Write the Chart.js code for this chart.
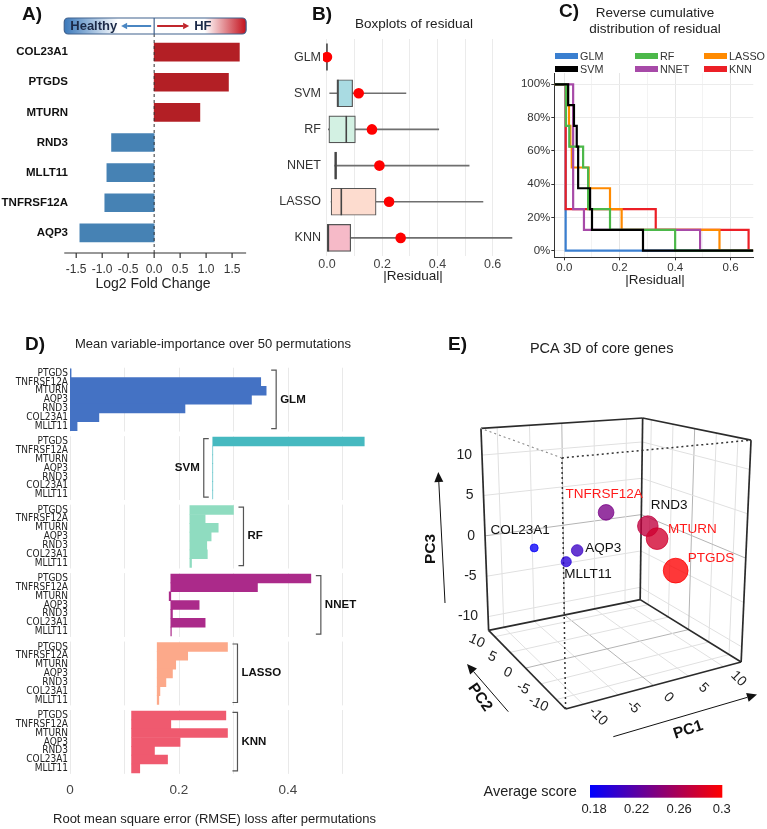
<!DOCTYPE html>
<html>
<head>
<meta charset="utf-8">
<title>Figure</title>
<script src="https://cdn.jsdelivr.net/npm/chart.js@4.4.1/dist/chart.umd.min.js"></script>
<style>
  html, body { margin:0; padding:0; background:#ffffff; }
  #fig { position:relative; width:767px; height:829px; overflow:hidden; background:#fff;
         font-family:"Liberation Sans", Arial, Helvetica, sans-serif; color:#222; }
  #fig canvas { position:absolute; }
  .t { position:absolute; white-space:nowrap; line-height:1; }
</style>
</head>
<body>
<div id="fig">
  <canvas id="cA" width="255" height="295" style="left:0;top:0"></canvas>
  <canvas id="cB" width="270" height="295" style="left:250px;top:0"></canvas>
  <canvas id="cC" width="262" height="295" style="left:505px;top:0"></canvas>
  <canvas id="cD" width="420" height="539" style="left:0;top:290px"></canvas>
  <canvas id="cE" width="347" height="539" style="left:420px;top:290px"></canvas>
</div>
<script>
// ===================== DATA =====================
// A) differential expression
const genesA = ['COL23A1','PTGDS','MTURN','RND3','MLLT11','TNFRSF12A','AQP3'];
const log2FC = [1.64, 1.43, 0.88, -0.82, -0.91, -0.95, -1.43];

// B) residual boxplots
const models  = ['GLM','SVM','RF','NNET','LASSO','KNN'];
const resMin  = [0, 0.010, 0.005, 0.028, 0.015, 0.000];
const resQ1   = [0, 0.036, 0.007, 0.028, 0.015, 0.001];
const resMed  = [0, 0.040, 0.070, 0.031, 0.052, 0.005];
const resQ3   = [0, 0.093, 0.103, 0.035, 0.178, 0.086];
const resMax  = [0, 0.286, 0.405, 0.515, 0.565, 0.670];
const resMean = [0, 0.115, 0.163, 0.190, 0.225, 0.267];

// C) sorted |residual| values per model and the survival level after each one
const survLevels = [1, 0.875, 0.75, 0.625, 0.5, 0.375, 0.25, 0.125, 0];
const residGLM   = [0.005, 0.005, 0.005, 0.005, 0.005, 0.005, 0.005, 0.005];
const residSVM   = [0.014, 0.035, 0.045, 0.050, 0.050, 0.093, 0.100, 0.284];
const residRF    = [0.006, 0.006, 0.018, 0.068, 0.086, 0.086, 0.165, 0.400];
const residNNET  = [0.032, 0.032, 0.032, 0.032, 0.032, 0.032, 0.071, 0.490];
const residLASSO = [0.012, 0.017, 0.022, 0.027, 0.088, 0.165, 0.207, 0.560];
const residKNN   = [0.005, 0.005, 0.005, 0.005, 0.005, 0.005, 0.330, 0.665];

// D) RMSE of full model and RMSE after permuting each gene
const genesD   = ['PTGDS','TNFRSF12A','MTURN','AQP3','RND3','COL23A1','MLLT11'];
const fullRMSE = [0, 0.262, 0.220, 0.185, 0.160, 0.113];
const permGLM   = [0.002, 0.350, 0.360, 0.333, 0.211, 0.053, 0.013];
const permSVM   = [0.540, 0.262, 0.262, 0.262, 0.262, 0.262, 0.262];
const permRF    = [0.300, 0.248, 0.272, 0.259, 0.251, 0.252, 0.223];
const permNNET  = [0.442, 0.344, 0.182, 0.237, 0.188, 0.248, 0.186];
const permLASSO = [0.289, 0.216, 0.194, 0.188, 0.176, 0.165, 0.163];
const permKNN   = [0.286, 0.185, 0.289, 0.202, 0.155, 0.179, 0.128];

// E) PCA 3D
const pcaGenes = ['COL23A1','AQP3','MLLT11','TNFRSF12A','RND3','MTURN','PTGDS'];
const pc1 = [-7.35, -4.7, -6.33, -0.43, 8.7, 7.1, 7.0];
const pc2 = [ 7.0, -0.5, -0.5, -0.5, 4.5, -0.5, -5.5];
const pc3 = [-0.7, 0.54, -0.54, 4.44, 0.68, 0.44, -2.2];
const avgScore = [0.180, 0.205, 0.195, 0.235, 0.270, 0.278, 0.300];
const pcTicks = [-10, -5, 0, 5, 10];
const scoreTicks = [0.18, 0.22, 0.26, 0.3];

// ===================== HELPERS =====================
const FONT = '"Liberation Sans", Arial, Helvetica, sans-serif';
const FONT_COND = '"DejaVu Sans Condensed", "DejaVu Sans", sans-serif';
Chart.defaults.font.family = FONT;
Chart.defaults.color = '#333';
Chart.defaults.animation = false;
Chart.defaults.responsive = false;
Chart.defaults.plugins.legend.display = false;
Chart.defaults.plugins.tooltip.enabled = false;

const fig = document.getElementById('fig');
function label(text, x, y, size, o = {}) {
  const d = document.createElement('div');
  d.className = 't';
  d.textContent = text;
  const tr = o.align === 'l' ? 'translate(0,-50%)' : o.align === 'r' ? 'translate(-100%,-50%)' : 'translate(-50%,-50%)';
  d.style.cssText = `left:${x}px;top:${y}px;font-size:${size}px;font-weight:${o.bold ? 'bold' : 'normal'};color:${o.color || '#222'};transform:${tr};`;
  fig.appendChild(d);
  return d;
}
function arrow(ctx, x1, y1, x2, y2, color, lw, hl, hw) {
  const a = Math.atan2(y2 - y1, x2 - x1);
  const bx = x2 - hl * Math.cos(a), by = y2 - hl * Math.sin(a);
  ctx.strokeStyle = color; ctx.fillStyle = color; ctx.lineWidth = lw;
  ctx.beginPath(); ctx.moveTo(x1, y1); ctx.lineTo(bx, by); ctx.stroke();
  ctx.beginPath(); ctx.moveTo(x2, y2);
  ctx.lineTo(bx + hw * Math.sin(a), by - hw * Math.cos(a));
  ctx.lineTo(bx - hw * Math.sin(a), by + hw * Math.cos(a));
  ctx.closePath(); ctx.fill();
}

// ===================== PANEL A =====================
const panelAPlugin = {
  id: 'pA',
  afterDatasetsDraw(chart) {
    const { ctx, scales: { x }, chartArea } = chart;
    const L = x.getPixelForValue(-1.73), R = x.getPixelForValue(1.77), z = x.getPixelForValue(0);
    const axY = chartArea.bottom + 5;
    const hy = 18, hh = 16;
    ctx.save();
    ctx.strokeStyle = '#333'; ctx.lineWidth = 1.2;
    ctx.beginPath(); ctx.moveTo(L, axY); ctx.lineTo(R, axY); ctx.stroke();
    x.ticks.forEach(t => {
      const p = x.getPixelForValue(t.value);
      ctx.beginPath(); ctx.moveTo(p, axY); ctx.lineTo(p, axY + 5); ctx.stroke();
    });
    ctx.setLineDash([3, 3]); ctx.lineWidth = 1; ctx.strokeStyle = '#333';
    ctx.beginPath(); ctx.moveTo(z, hy + hh); ctx.lineTo(z, axY); ctx.stroke();
    ctx.setLineDash([]);
    const gl = ctx.createLinearGradient(L, 0, z, 0);
    gl.addColorStop(0, '#3a78ba'); gl.addColorStop(0.6, '#ffffff'); gl.addColorStop(1, '#ffffff');
    ctx.fillStyle = gl; ctx.beginPath(); ctx.roundRect(L, hy, z - L, hh, [4, 0, 0, 4]); ctx.fill();
    const gr = ctx.createLinearGradient(z, 0, R, 0);
    gr.addColorStop(0, '#ffffff'); gr.addColorStop(0.55, '#ffffff'); gr.addColorStop(1, '#c3101c');
    ctx.fillStyle = gr; ctx.beginPath(); ctx.roundRect(z, hy, R - z, hh, [0, 4, 4, 0]); ctx.fill();
    ctx.strokeStyle = '#41628e'; ctx.lineWidth = 1.2;
    ctx.beginPath(); ctx.roundRect(L, hy, R - L, hh, 4); ctx.stroke();
    ctx.beginPath(); ctx.moveTo(z, hy); ctx.lineTo(z, hy + hh); ctx.stroke();
    arrow(ctx, z - 3, hy + hh / 2, z - 33, hy + hh / 2, '#4a86c2', 2, 6, 3.2);
    arrow(ctx, z + 3, hy + hh / 2, z + 35, hy + hh / 2, '#c0262c', 2, 6, 3.2);
    ctx.fillStyle = '#1c2a48'; ctx.font = 'bold 13px ' + FONT; ctx.textBaseline = 'middle';
    ctx.textAlign = 'left'; ctx.fillText('Healthy', L + 6, hy + hh / 2 + 0.5);
    ctx.fillText('HF', z + 40, hy + hh / 2 + 0.5);
    ctx.restore();
  }
};
new Chart(document.getElementById('cA'), {
  type: 'bar',
  data: { labels: genesA, datasets: [{ data: log2FC, backgroundColor: log2FC.map(v => v > 0 ? '#b31f25' : '#4682b4'), barThickness: 18, borderWidth: 0 }] },
  options: {
    indexAxis: 'y',
    layout: { padding: { top: 37, right: 7, left: 0, bottom: 0 } },
    scales: {
      x: { type: 'linear', min: -1.581, max: 1.771, grid: { display: false, drawTicks: false }, border: { display: false },
           ticks: { stepSize: 0.5, includeBounds: false, padding: 14, font: { size: 12 }, color: '#333', callback: v => v.toFixed(1) },
           afterFit: s => { s.height = 47; } },
      y: { grid: { display: false, drawTicks: false }, border: { display: false },
           ticks: { padding: 4, font: { size: 11.5, weight: 'bold' }, color: '#111' },
           afterFit: s => { s.width = 72; } }
    }
  },
  plugins: [panelAPlugin]
});

// ===================== PANEL B =====================
const boxFill = ['#ffffff', '#a9dbe2', '#d3f1e3', '#c9a3c9', '#fddccf', '#f6bac8'];
const medianPlugin = {
  id: 'medians',
  afterDatasetDraw(chart, args) {
    if (args.index !== 1) return;
    const { ctx, scales: { x, y } } = chart;
    ctx.save();
    ctx.strokeStyle = '#444'; ctx.lineWidth = 1.6;
    models.forEach((m, i) => {
      const px = x.getPixelForValue(resMed[i]), py = y.getPixelForValue(i);
      ctx.beginPath(); ctx.moveTo(px, py - 13.5); ctx.lineTo(px, py + 13.5); ctx.stroke();
    });
    ctx.restore();
  }
};
new Chart(document.getElementById('cB'), {
  type: 'bar',
  data: {
    labels: models,
    datasets: [
      { type: 'line', indexAxis: 'y', data: models.map((m, i) => ({ x: resMean[i], y: m })), showLine: false,
        pointRadius: 5.3, pointBackgroundColor: '#ff0000', pointBorderWidth: 0, order: 0 },
      { data: models.map((m, i) => [resQ1[i], resQ3[i]]), backgroundColor: boxFill, borderColor: '#555',
        borderWidth: 1.2, borderSkipped: false, barThickness: 27, grouped: false, order: 1 },
      { data: models.map((m, i) => [resMin[i], resMax[i]]), backgroundColor: '#6f6f6f', barThickness: 1, grouped: false, order: 2 }
    ]
  },
  options: {
    indexAxis: 'y',
    layout: { padding: { top: 39, right: 2.6, left: 0, bottom: 0 } },
    scales: {
      x: { type: 'linear', min: -0.0143, max: 0.68, border: { display: false },
           grid: { color: '#ebebeb', drawTicks: false },
           ticks: { stepSize: 0.1, includeBounds: false, padding: 1, font: { size: 12.5 }, color: '#444',
                    callback: v => (Math.round(v * 10) % 2 === 0 ? v.toFixed(1) : '') },
           afterFit: s => { s.height = 39; } },
      y: { grid: { display: false, drawTicks: false }, border: { display: false },
           ticks: { padding: 2, font: { size: 12.5 }, color: '#333' },
           afterFit: s => { s.width = 73; } }
    }
  },
  plugins: [medianPlugin]
});

// ===================== PANEL C =====================
const X0C = -0.036, X1C = 0.682;
function stepData(vals) {
  const pts = [{ x: X0C, y: survLevels[0] }];
  vals.forEach((v, i) => pts.push({ x: v, y: survLevels[i + 1] }));
  pts.push({ x: X1C, y: survLevels[survLevels.length - 1] });
  return pts;
}
const cColors = { GLM: '#3a7fd0', SVM: '#000000', RF: '#4cb84a', NNET: '#a74aa8', LASSO: '#ff8a00', KNN: '#ec1f26' };
const cSeries = [
  ['SVM', residSVM, 0], ['RF', residRF, 1], ['NNET', residNNET, 2],
  ['LASSO', residLASSO, 3], ['KNN', residKNN, 4], ['GLM', residGLM, 5]
];
new Chart(document.getElementById('cC'), {
  type: 'line',
  data: { datasets: cSeries.map(([name, vals, ord]) => ({
    label: name, data: stepData(vals), stepped: true, borderColor: cColors[name], borderWidth: 2.2,
    pointRadius: 0, fill: false, order: ord })) },
  options: {
    layout: { padding: { top: 73, right: 13.7, left: 0, bottom: 0 } },
    scales: {
      x: { type: 'linear', min: X0C, max: X1C, border: { display: true, color: '#333', width: 1 },
           grid: { color: c => (Math.round(c.tick.value * 10) % 2 === 0 ? '#e6e6e6' : '#f3f3f3'),
                   tickColor: c => (Math.round(c.tick.value * 10) % 2 === 0 ? '#333' : 'rgba(0,0,0,0)'), tickLength: 3 },
           ticks: { stepSize: 0.1, includeBounds: false, padding: 1, font: { size: 11.5 }, color: '#333',
                    callback: v => (Math.round(v * 10) % 2 === 0 ? v.toFixed(1) : '') },
           afterFit: s => { s.height = 37.7; } },
      y: { type: 'linear', min: -0.04, max: 1.068, border: { display: true, color: '#333', width: 1 },
           grid: { color: '#ececec', tickColor: '#333', tickLength: 3 },
           ticks: { stepSize: 0.2, includeBounds: false, padding: 1, font: { size: 11.5 }, color: '#333',
                    callback: v => Math.round(v * 100) + '%' },
           afterFit: s => { s.width = 49.3; } }
    }
  }
});

// ===================== PANEL D =====================
const FSTRIDE = 7.75;
const dColors = ['#4472c4', '#46b9c0', '#8fdcc0', '#ab2a8a', '#fca98a', '#ef5a6f'];
const permD = [permGLM, permSVM, permRF, permNNET, permLASSO, permKNN];
const facetPlugin = {
  id: 'facets',
  beforeDatasetsDraw(chart) {
    const { ctx, scales: { x, y } } = chart;
    ctx.save(); ctx.strokeStyle = '#e9e9e9'; ctx.lineWidth = 1;
    models.forEach((m, f) => {
      const t = y.getPixelForValue(f * FSTRIDE - 0.5) - 1, b = y.getPixelForValue(f * FSTRIDE + 6.5) + 1;
      for (let k = 0; k <= 5; k++) {
        const px = Math.round(x.getPixelForValue(k / 10)) + 0.5;
        ctx.beginPath(); ctx.moveTo(px, t); ctx.lineTo(px, b); ctx.stroke();
      }
    });
    ctx.restore();
  },
  afterDatasetsDraw(chart, args, opts) {
    const { ctx, scales: { x, y } } = chart;
    ctx.save();
    ctx.strokeStyle = '#555'; ctx.lineWidth = 1.2; ctx.fillStyle = '#111';
    ctx.font = 'bold 11.5px ' + FONT; ctx.textBaseline = 'middle';
    models.forEach((m, f) => {
      const top = y.getPixelForValue(f * FSTRIDE) - 3, bot = y.getPixelForValue(f * FSTRIDE + 6) + 2.5;
      const mid = (top + bot) / 2;
      if (opts.side[f] === 'left') {
        const bx = x.getPixelForValue(fullRMSE[f]) - 9;
        ctx.beginPath(); ctx.moveTo(bx + 5, top); ctx.lineTo(bx, top); ctx.lineTo(bx, bot); ctx.lineTo(bx + 5, bot); ctx.stroke();
        ctx.textAlign = 'right'; ctx.fillText(m, bx - 4, mid);
      } else {
        const bx = x.getPixelForValue(Math.max(...permD[f])) + 10;
        ctx.beginPath(); ctx.moveTo(bx - 5, top); ctx.lineTo(bx, top); ctx.lineTo(bx, bot); ctx.lineTo(bx - 5, bot); ctx.stroke();
        ctx.textAlign = 'left'; ctx.fillText(m, bx + 4, mid);
      }
    });
    ctx.restore();
  }
};
new Chart(document.getElementById('cD'), {
  type: 'bar',
  data: {
    datasets: models.map((m, f) => ({
      label: m,
      data: genesD.map((g, k) => ({ y: f * FSTRIDE + k, x: [fullRMSE[f], permD[f][k]] })),
      backgroundColor: dColors[f], borderWidth: 0, grouped: false, barPercentage: 1, categoryPercentage: 1
    }))
  },
  options: {
    indexAxis: 'y',
    layout: { padding: { top: 73.8, right: 39.4, left: 0, bottom: 21.2 } },
    scales: {
      x: { type: 'linear', min: 0, max: 0.57, grid: { display: false, drawTicks: false }, border: { display: false },
           ticks: { stepSize: 0.2, includeBounds: false, padding: 4, font: { size: 13.5 }, color: '#444',
                    callback: v => (v === 0 ? '0' : v.toFixed(1)) },
           afterFit: s => { s.height = 30; } },
      y: { type: 'linear', reverse: true, min: -0.5, max: 5 * FSTRIDE + 6.5,
           grid: { display: false, drawTicks: false }, border: { display: false },
           afterBuildTicks: s => {
             const t = [];
             models.forEach((m, f) => genesD.forEach((g, k) => t.push({ value: f * FSTRIDE + k })));
             s.ticks = t;
           },
           ticks: { autoSkip: false, padding: 2, color: '#222', font: { family: FONT_COND, size: 10, lineHeight: 1 },
                    callback: (v, i) => genesD[i % genesD.length] },
           afterFit: s => { s.width = 70; } }
    },
    plugins: { facets: { side: ['right', 'left', 'right', 'right', 'right', 'right'] } }
  },
  plugins: [facetPlugin]
});

// ===================== PANEL E =====================
const R1 = [-12.5, 12.5], R2 = [-13, 12], R3 = [-11.7, 13.3];
const SCORE_LIM = [0.1762, 0.3005];
// view: where the 8 corners of the PCA cube land, in the chart's own x/y units (key = PC1 PC2 PC3 at min(0)/max(1))
const CUBE = {
  '000': [143.3, 426.7], '100': [333.3, 377.3], '010': [60, 344], '110': [224, 311.7],
  '001': [139.3, 162.7], '101': [344, 144], '011': [51.7, 131.7], '111': [226.7, 120.7]
};
function proj(a, b, c) {
  const u = (a - R1[0]) / (R1[1] - R1[0]), v = (b - R2[0]) / (R2[1] - R2[0]), w = (c - R3[0]) / (R3[1] - R3[0]);
  let x = 0, y = 0;
  for (const i of [0, 1]) for (const j of [0, 1]) for (const k of [0, 1]) {
    const wt = (i ? u : 1 - u) * (j ? v : 1 - v) * (k ? w : 1 - w);
    const p = CUBE['' + i + j + k]; x += wt * p[0]; y += wt * p[1];
  }
  return { x, y };
}
function scoreColor(s, alpha) {
  const t = Math.max(0, Math.min(1, (s - SCORE_LIM[0]) / (SCORE_LIM[1] - SCORE_LIM[0])));
  return `rgba(${Math.round(255 * t)},0,${Math.round(255 * (1 - t))},${alpha})`;
}
const bubbleR = s => 4 + (s - 0.18) * 70;

const pcaPlugin = {
  id: 'pca3d',
  beforeDatasetsDraw(chart) {
    const { ctx, scales: { x: xs, y: ys } } = chart;
    const P = (a, b, c) => { const q = proj(a, b, c); return [xs.getPixelForValue(q.x), ys.getPixelForValue(q.y)]; };
    const line = (p, q) => { ctx.beginPath(); ctx.moveTo(p[0], p[1]); ctx.lineTo(q[0], q[1]); ctx.stroke(); };
    const [a0, a1] = R1, [b0, b1] = R2, [c0, c1] = R3;
    ctx.save(); ctx.lineWidth = 1;
    pcTicks.forEach(t => {
      ctx.strokeStyle = t === 0 ? '#b4b4b4' : '#e0e0e0';
      line(P(t, b0, c0), P(t, b1, c0)); line(P(a0, t, c0), P(a1, t, c0));
      line(P(t, b1, c0), P(t, b1, c1)); line(P(a0, b1, t), P(a1, b1, t));
      line(P(a1, t, c0), P(a1, t, c1)); line(P(a1, b0, t), P(a1, b1, t));
    });
    ctx.strokeStyle = '#2b2b2b'; ctx.lineWidth = 1.7;
    [[P(a0, b0, c0), P(a1, b0, c0)], [P(a0, b0, c0), P(a0, b1, c0)], [P(a0, b1, c0), P(a1, b1, c0)], [P(a1, b0, c0), P(a1, b1, c0)],
     [P(a0, b1, c0), P(a0, b1, c1)], [P(a1, b1, c0), P(a1, b1, c1)], [P(a1, b0, c0), P(a1, b0, c1)],
     [P(a0, b1, c1), P(a1, b1, c1)], [P(a1, b0, c1), P(a1, b1, c1)]].forEach(([p, q]) => line(p, q));
    ctx.setLineDash([2, 3]); ctx.strokeStyle = '#333'; ctx.lineWidth = 1.5;
    line(P(a0, b0, c0), P(a0, b0, c1)); line(P(a0, b0, c1), P(a1, b0, c1));
    ctx.strokeStyle = '#8a8a8a'; ctx.lineWidth = 1.1;
    line(P(a0, b0, c1), P(a0, b1, c1));
    ctx.restore();
  },
  afterDatasetsDraw(chart, args, opts) {
    const { ctx, scales: { x: xs, y: ys } } = chart;
    const P = (a, b, c) => { const q = proj(a, b, c); return [xs.getPixelForValue(q.x), ys.getPixelForValue(q.y)]; };
    const [a0, a1] = R1, [b0, b1] = R2, [c0, c1] = R3;
    const rotText = (s, x, y, deg, font, align) => {
      ctx.save(); ctx.translate(x, y); ctx.rotate(deg * Math.PI / 180);
      ctx.font = font; ctx.textAlign = align || 'center'; ctx.textBaseline = 'middle'; ctx.fillText(s, 0, 0); ctx.restore();
    };
    ctx.save();
    ctx.font = '13.5px ' + FONT; ctx.textBaseline = 'middle';
    const meta = chart.getDatasetMeta(0);
    pcaGenes.forEach((g, i) => {
      const el = meta.data[i], o = opts.labels[i];
      ctx.fillStyle = o.c; ctx.textAlign = o.a === 'l' ? 'left' : 'center';
      ctx.fillText(g, el.x + o.dx, el.y + o.dy);
    });
    ctx.fillStyle = '#222';
    const tf = '14px ' + FONT;
    pcTicks.forEach(t => {
      let p = P(a0, b1, t);
      rotText(String(t), p[0] - 10, p[1], 0, tf, 'right');
      p = P(a0, t, c0);
      rotText(String(t), p[0] - 18, p[1] + 4.5, 25, tf);
      p = P(t, b0, c0);
      rotText(String(t), p[0] + 15, p[1] + 12, 45, tf);
    });
    arrow(ctx, 25, 313, 18.3, 182, '#111', 1, 10, 4.5);
    arrow(ctx, 88.3, 421.7, 47, 374, '#111', 1, 10, 4.5);
    arrow(ctx, 193.3, 446.7, 337, 404.5, '#111', 1, 10, 4.5);
    ctx.fillStyle = '#111';
    const af = 'bold 15.5px ' + FONT;
    rotText('PC3', 10.8, 259, -90, af);
    rotText('PC2', 60, 407.5, 55, af);
    rotText('PC1', 268.3, 440, -18, af);
    const bx = 170, bw = 132.3, by = 495, bh = 12.7;
    const g = ctx.createLinearGradient(bx, 0, bx + bw, 0);
    g.addColorStop(0, scoreColor(SCORE_LIM[0], 1)); g.addColorStop(0.5, scoreColor((SCORE_LIM[0] + SCORE_LIM[1]) / 2, 1));
    g.addColorStop(1, scoreColor(SCORE_LIM[1], 1));
    ctx.fillStyle = g; ctx.fillRect(bx, by, bw, bh);
    ctx.fillStyle = '#222'; ctx.font = '14.5px ' + FONT; ctx.textAlign = 'right'; ctx.textBaseline = 'middle';
    ctx.fillText('Average score', bx - 13.3, by + bh / 2 + 1);
    ctx.font = '13px ' + FONT; ctx.textAlign = 'center';
    scoreTicks.forEach(s => {
      const px = bx + (s - SCORE_LIM[0]) / (SCORE_LIM[1] - SCORE_LIM[0]) * bw;
      ctx.fillText(String(s), px, by + 24);
    });
    ctx.restore();
  }
};
new Chart(document.getElementById('cE'), {
  type: 'bubble',
  data: { datasets: [{
    data: pcaGenes.map((g, i) => { const p = proj(pc1[i], pc2[i], pc3[i]); return { x: p.x, y: p.y, r: bubbleR(avgScore[i]) }; }),
    backgroundColor: avgScore.map(s => scoreColor(s, 0.78)),
    borderColor: avgScore.map(s => scoreColor(s, 0.95)),
    borderWidth: 0.8, clip: false
  }] },
  options: {
    layout: { padding: 0 },
    scales: { x: { type: 'linear', display: false, min: 0, max: 347 },
              y: { type: 'linear', display: false, min: 0, max: 539, reverse: true } },
    plugins: { pca3d: { labels: [
      { dx: -14, dy: -18, a: 'c', c: '#111' },
      { dx: 8, dy: -2, a: 'l', c: '#111' },
      { dx: -2, dy: 13, a: 'l', c: '#111' },
      { dx: -2, dy: -18, a: 'c', c: '#ff1a1a' },
      { dx: 3, dy: -21, a: 'l', c: '#111' },
      { dx: 11, dy: -9, a: 'l', c: '#ff1a1a' },
      { dx: 12, dy: -12, a: 'l', c: '#ff1a1a' }
    ] } }
  },
  plugins: [pcaPlugin]
});

// ===================== TEXT =====================
label('A)', 22, 13, 19, { align: 'l', bold: true, color: '#111' });
label('Log2 Fold Change', 153, 283, 14, { color: '#222' });
label('B)', 312, 13, 19, { align: 'l', bold: true, color: '#111' });
label('Boxplots of residual', 414, 24, 13.5, { color: '#222' });
label('|Residual|', 413, 276, 13.5, { color: '#222' });
label('C)', 559, 10, 19, { align: 'l', bold: true, color: '#111' });
label('Reverse cumulative', 655, 13, 13.5, { color: '#222' });
label('distribution of residual', 655, 29, 13.5, { color: '#222' });
label('|Residual|', 655, 280, 13.5, { color: '#222' });
[['GLM', 555, 56], ['SVM', 555, 69], ['RF', 635, 56], ['NNET', 635, 69], ['LASSO', 704, 56], ['KNN', 704, 69]].forEach(([n, x, y]) => {
  const s = document.createElement('div');
  s.style.cssText = `position:absolute;left:${x}px;top:${y - 3}px;width:23px;height:6px;background:${cColors[n]};`;
  fig.appendChild(s);
  label(n, x + 25, y, 10.8, { align: 'l', color: '#333' });
});
label('D)', 25, 342.5, 19, { align: 'l', bold: true, color: '#111' });
label('Mean variable-importance over 50 permutations', 213, 343, 13, { color: '#222' });
label('Root mean square error (RMSE) loss after permutations', 214.5, 818, 13, { color: '#222' });
label('E)', 448, 342.5, 19, { align: 'l', bold: true, color: '#111' });
label('PCA 3D of core genes', 601.7, 348, 14.5, { color: '#222' });
</script>
</body>
</html>
